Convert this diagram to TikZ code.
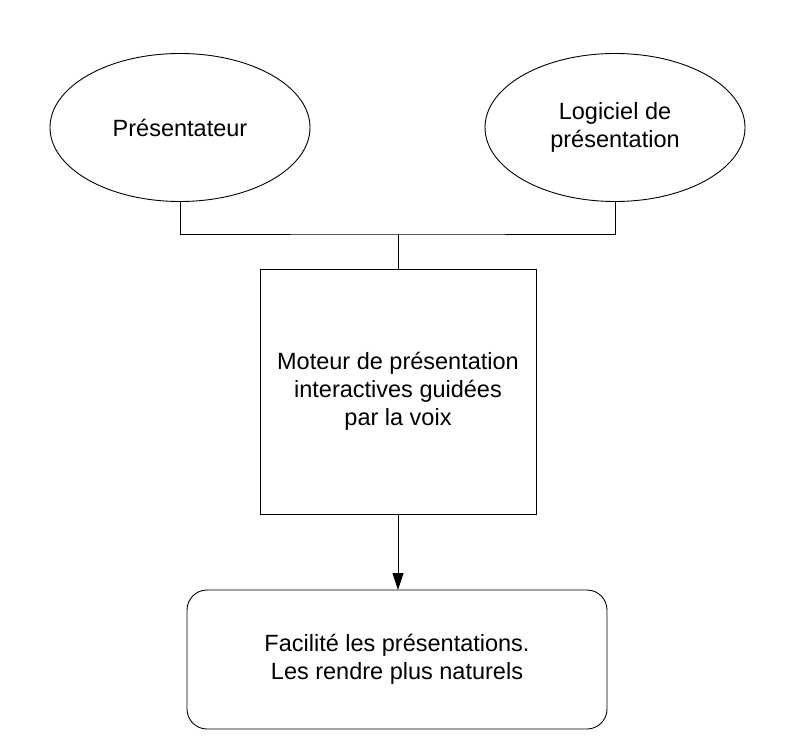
\documentclass[tikz,border=0pt]{standalone}
\usepackage{fontspec}
\setmainfont{Liberation Sans}
\usetikzlibrary{shapes.geometric,arrows.meta}
\begin{document}
\begin{tikzpicture}[x=1pt,y=-1pt,
  txt/.style={font=\fontsize{23.5}{28}\selectfont, align=center, text=black},
  ell/.style={ellipse, draw=black, line width=0.9pt, inner sep=0pt, outer sep=0pt, minimum width=260pt, minimum height=148pt, txt},
  sqbox/.style={rectangle, draw=black, line width=0.9pt, inner sep=0pt, outer sep=0pt, minimum width=276pt, minimum height=245pt, txt},
  rbox/.style={rectangle, rounded corners=20pt, draw=black, line width=0.9pt, inner sep=0pt, outer sep=0pt, minimum width=420pt, minimum height=139pt, txt},
  conn/.style={draw=black, line width=0.9pt}
]
\useasboundingbox (0,0) rectangle (794,751);
\node[ell] (pres) at (180,127.5) {Présentateur};
\node[ell] (logi) at (615,127.5) {Logiciel de\\présentation};
\node[sqbox] (mot) at (398,391.5) {Moteur de présentation\\interactives guidées\\par la voix};
\node[rbox] (fac) at (397,659.5) {Facilité les présentations.\\Les rendre plus naturels};
\coordinate (j) at (398,234);
\draw[conn] (pres.south) |- (j) -| (logi.south);
\draw[conn] (j) -- (mot.north);
\draw[conn, -{Triangle[length=17pt,width=11pt]}] (mot.south) -- (mot.south |- fac.north);
\end{tikzpicture}
\end{document}
